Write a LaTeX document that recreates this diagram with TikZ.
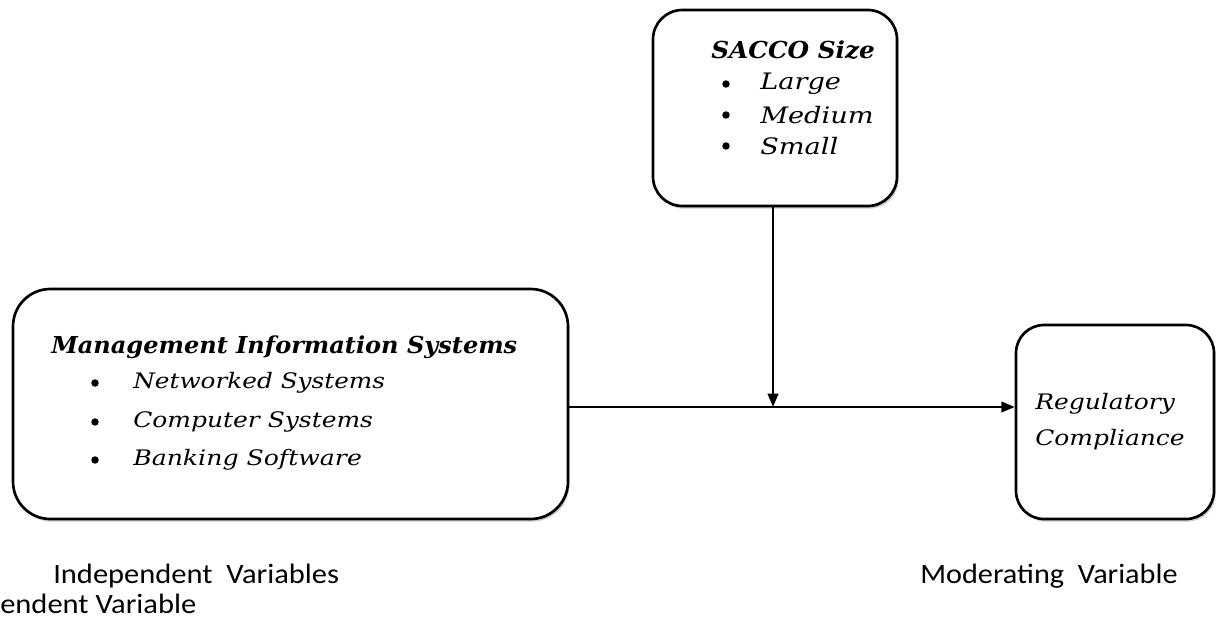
\documentclass[tikz,border=0pt]{standalone}
\usepackage{fontspec}
\setmainfont{DejaVu Serif}
\newfontfamily\captionfont{Carlito}
\usetikzlibrary{arrows.meta,shadows}

% horizontally widened text (the serif used here is narrower than the design face)
\newcommand\widetext[2]{\scalebox{#1}[1]{#2}}

\tikzset{
  varbox/.style={draw=black, line width=2pt, fill=white, rounded corners=#1,
    inner sep=0pt,
    drop shadow={shadow xshift=1.2pt, shadow yshift=-2pt, opacity=0.35, fill=black!55}},
  head/.style={anchor=west, inner sep=0pt, font=\fontsize{17.5}{20}\selectfont\bfseries\itshape},
  item/.style={anchor=west, inner sep=0pt, font=\fontsize{16}{20}\selectfont\itshape},
  bigitem/.style={anchor=west, inner sep=0pt, font=\fontsize{17}{20}\selectfont\itshape},
  dot/.style={circle, fill=black, inner sep=0pt, minimum size=5.6pt},
  caption/.style={anchor=west, inner sep=0pt, font=\captionfont\fontsize{21}{24}\selectfont},
  link/.style={draw=black, line width=1.4pt, -{Triangle[length=10pt,width=8pt]}}
}

\begin{document}
\begin{tikzpicture}[x=0.75pt, y=-0.75pt]
\useasboundingbox (0,0) rectangle (1217,629);

% boxes
\node[varbox=28pt, minimum width=416.25pt, minimum height=172.5pt] (mis) at (290.5,404) {};
\node[varbox=22pt, minimum width=183pt, minimum height=147pt] (sacco) at (775,108) {};
\node[varbox=21pt, minimum width=148.5pt, minimum height=145.5pt] (reg) at (1115,422) {};

% independent variable
\node[head] (misT) at (51,347) {\widetext{1.03}{Management Information Systems}};
\node[dot] (misB1) at (95,383) {};
\node[item] (misI1) at (133,383) {\widetext{1.16}{Networked Systems}};
\node[dot] (misB2) at (95,422) {};
\node[item] (misI2) at (133,422) {\widetext{1.17}{Computer Systems}};
\node[dot] (misB3) at (95,460) {};
\node[item] (misI3) at (133,460) {\widetext{1.18}{Banking Software}};

% moderating variable
\node[head] (saccoT) at (711,50) {\widetext{1.06}{SACCO Size}};
\node[dot] (saccoB1) at (726,84) {};
\node[bigitem] (saccoI1) at (760,84) {\widetext{1.2}{Large}};
\node[dot] (saccoB2) at (726,115) {};
\node[bigitem] (saccoI2) at (760,115) {\widetext{1.2}{Medium}};
\node[dot] (saccoB3) at (726,146) {};
\node[bigitem] (saccoI3) at (760,146) {\widetext{1.2}{Small}};

% dependent variable
\node[item] (regI1) at (1035,404) {\widetext{1.17}{Regulatory}};
\node[item] (regI2) at (1035,440) {\widetext{1.17}{Compliance}};

% connectors
\coordinate (join) at (773,407);
\draw[link] (mis.east |- join) -- (reg.west |- join);
\draw[link] (sacco.south -| join) -- (join);

% captions
\node[caption] (capI) at (53,576) {\widetext{1.09}{Independent\ \ Variables}};
\node[caption] (capM) at (920,576) {\widetext{1.08}{Moderating\ \ Variable}};
\node[caption] (capD) at (0,604) {\widetext{1.09}{endent Variable}};
\end{tikzpicture}
\end{document}
